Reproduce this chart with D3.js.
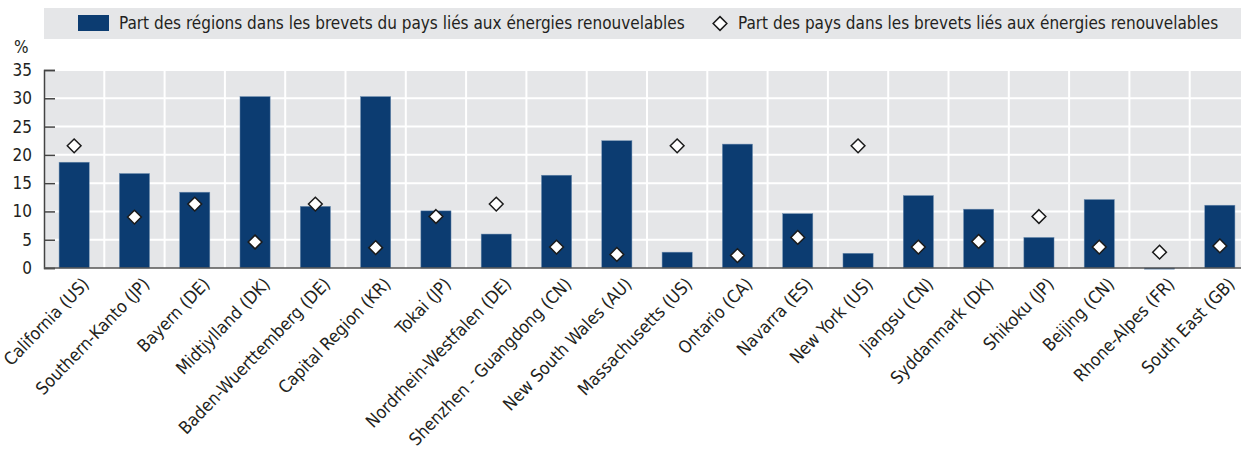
<!DOCTYPE html>
<html>
    <head>
        <meta charset="utf-8">
        <title>Brevets énergies renouvelables</title>
        <script type="text/javascript" src="https://d3js.org/d3.v7.min.js"></script>
        <style>
            body { margin: 0; background: #fff; }
            svg text { font-family: "DejaVu Sans Condensed", sans-serif; fill: #231f20; }
        </style>
    </head>
    <body>
        <script>
            // données
            var categories = ["California (US)", "Southern-Kanto (JP)", "Bayern (DE)", "Midtjylland (DK)",
                "Baden-Wuerttemberg (DE)", "Capital Region (KR)", "Tokai (JP)", "Nordrhein-Westfalen (DE)",
                "Shenzhen - Guangdong (CN)", "New South Wales (AU)", "Massachusetts (US)", "Ontario (CA)",
                "Navarra (ES)", "New York (US)", "Jiangsu (CN)", "Syddanmark (DK)", "Shikoku (JP)",
                "Beijing (CN)", "Rhone-Alpes (FR)", "South East (GB)"];
            var regionShare = [18.7, 16.7, 13.4, 30.3, 10.9, 30.3, 10.1, 6.0, 16.4, 22.5,
                2.8, 21.9, 9.6, 2.6, 12.8, 10.4, 5.4, 12.1, -0.2, 11.1];
            var countryShare = [21.6, 9.0, 11.3, 4.6, 11.3, 3.6, 9.1, 11.3, 3.7, 2.4,
                21.6, 2.2, 5.4, 21.6, 3.7, 4.7, 9.1, 3.7, 2.8, 3.9];
            var yTicks = [0, 5, 10, 15, 20, 25, 30, 35];
            var legendLabels = ["Part des régions dans les brevets du pays liés aux énergies renouvelables",
                "Part des pays dans les brevets liés aux énergies renouvelables"];

            var W = 1241, H = 450;
            var margin = { top: 70, left: 44, right: 1250, bottom: 268 };
            var barColor = "#0c3c71", bgColor = "#e5e6e8";

            var svg = d3.select("body").append("svg")
                .attr("width", W)
                .attr("height", H);

            var x = d3.scaleBand()
                .domain(categories)
                .range([margin.left, margin.right])
                .paddingInner(0.5)
                .paddingOuter(0.25);

            var y = d3.scaleLinear()
                .domain([0, 35])
                .range([margin.bottom, margin.top]);

            // fond
            svg.append("rect")
                .attr("x", margin.left)
                .attr("y", margin.top)
                .attr("width", margin.right - margin.left)
                .attr("height", margin.bottom - margin.top)
                .attr("fill", bgColor);

            // grille
            svg.append("g").selectAll("line")
                .data(yTicks.slice(1))
                .enter().append("line")
                .attr("x1", margin.left).attr("x2", margin.right)
                .attr("y1", function(d) { return y(d); })
                .attr("y2", function(d) { return y(d); })
                .attr("stroke", "#fff").attr("stroke-width", 2);

            svg.append("g").selectAll("line")
                .data(d3.range(1, categories.length))
                .enter().append("line")
                .attr("x1", function(i) { return margin.left + i * x.step(); })
                .attr("x2", function(i) { return margin.left + i * x.step(); })
                .attr("y1", margin.top).attr("y2", margin.bottom)
                .attr("stroke", "#fff").attr("stroke-width", 2);

            // barres
            svg.append("g").selectAll("rect")
                .data(categories)
                .enter().append("rect")
                .attr("x", function(d) { return x(d); })
                .attr("width", x.bandwidth())
                .attr("y", function(d, i) { return y(Math.max(0, regionShare[i])); })
                .attr("height", function(d, i) { return Math.abs(y(regionShare[i]) - y(0)); })
                .attr("fill", barColor)
                .attr("stroke", "#6d8db0")
                .attr("stroke-width", 0.5);

            // axe y
            var yAxis = d3.axisLeft(y)
                .tickValues(yTicks)
                .tickSize(-11)
                .tickPadding(12);

            var gy = svg.append("g")
                .attr("transform", "translate(" + margin.left + ",0)")
                .call(yAxis);
            gy.select(".domain").attr("stroke", "#444").attr("stroke-width", 1.5);
            gy.selectAll(".tick line").attr("stroke", "#444").attr("stroke-width", 1.5);
            gy.selectAll(".tick text").attr("font-size", 17);

            svg.append("text")
                .attr("x", 14)
                .attr("y", 53)
                .attr("font-size", 17)
                .text("%");

            // axe x
            var xAxis = d3.axisBottom(x).tickSize(0).tickPadding(0);
            var gx = svg.append("g")
                .attr("transform", "translate(0," + y(0) + ")")
                .call(xAxis);
            gx.select(".domain").remove();
            gx.selectAll(".tick text")
                .attr("font-size", 17.5)
                .attr("text-anchor", "end")
                .attr("dy", 0)
                .attr("transform", "translate(16,17) rotate(-46)");

            svg.append("line")
                .attr("x1", margin.left).attr("x2", margin.right)
                .attr("y1", y(0)).attr("y2", y(0))
                .attr("stroke", "#555").attr("stroke-width", 1.5);

            // losanges
            var diamond = d3.symbol().type(d3.symbolDiamond2).size(120);
            svg.append("g").selectAll("path")
                .data(categories)
                .enter().append("path")
                .attr("d", diamond)
                .attr("transform", function(d, i) {
                    return "translate(" + (x(d) + x.bandwidth() / 2) + "," + y(countryShare[i]) + ")";
                })
                .attr("fill", "#fff")
                .attr("stroke", "#1a1a1a")
                .attr("stroke-width", 1.5);

            // légende
            var legend = svg.append("g");
            legend.append("rect")
                .attr("x", margin.left).attr("y", 8)
                .attr("width", W - margin.left).attr("height", 31)
                .attr("fill", bgColor);
            legend.append("rect")
                .attr("x", 78).attr("y", 15)
                .attr("width", 31).attr("height", 16)
                .attr("fill", barColor);
            legend.append("text")
                .attr("x", 119).attr("y", 29)
                .attr("font-size", 17)
                .text(legendLabels[0]);
            legend.append("path")
                .attr("d", diamond)
                .attr("transform", "translate(720,23.5)")
                .attr("fill", "#fff")
                .attr("stroke", "#1a1a1a")
                .attr("stroke-width", 1.5);
            legend.append("text")
                .attr("x", 738).attr("y", 29)
                .attr("font-size", 17)
                .text(legendLabels[1]);
        </script>
    </body>
</html>
